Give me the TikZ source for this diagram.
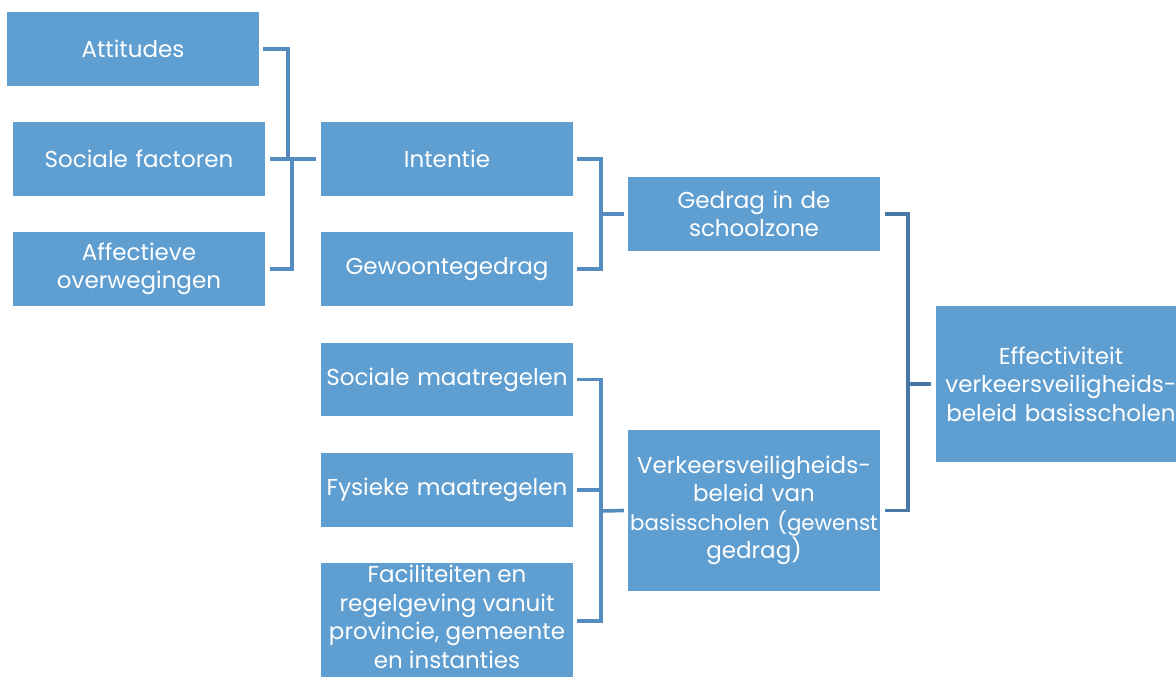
\documentclass[tikz,border=0pt]{standalone}
\usepackage{fontspec}
\setmainfont{Poppins}
\begin{document}
\begin{tikzpicture}[x=1pt,y=-1pt,
  box/.style={fill=boxblue,text=white,minimum width=252pt,inner xsep=1pt,inner ysep=0pt,
    text width=250pt,align=center,font=\fontsize{23}{28.5}\selectfont},
  conn/.style={draw=lineblue,line width=3.6pt},
  connd/.style={draw=linedark,line width=3.6pt}]
\definecolor{boxblue}{RGB}{95,158,209}
\definecolor{lineblue}{RGB}{84,140,192}
\definecolor{linedark}{RGB}{72,121,166}
\useasboundingbox (0,0) rectangle (1176,677);
\begin{scope}
\clip (0,0) rectangle (1176,677);
% first column
\node[box,minimum height=74pt] (att) at (133,49) {Attitudes};
\node[box,minimum height=74pt] (soc) at (139,159) {Sociale factoren};
\node[box,minimum height=74pt] (aff) at (139,269) {Affectieve\\overwegingen};
% second column
\node[box,minimum height=74pt] (int) at (447,159) {Intentie};
\node[box,minimum height=74pt] (gew) at (447,269) {Gewoontegedrag};
\node[box,minimum height=73pt] (smr) at (447,379.5) {Sociale maatregelen};
\node[box,minimum height=74pt] (fys) at (447,490) {Fysieke maatregelen};
\node[box,minimum height=116pt] (fac) at (447,621) {};
\node[text=white,align=center,inner sep=0pt,font=\fontsize{23}{28.5}\selectfont] (factxt) at (447,617)
  {Faciliteiten en\\regelgeving vanuit\\provincie, gemeente\\en instanties};
% third column
\node[box,minimum height=74pt] (ged) at (754,214) {Gedrag in de\\schoolzone};
\node[box,minimum height=161pt] (vvb) at (754,510.5)
  {Verkeersveiligheids-\\beleid van\\\mbox{\fontsize{21.3}{28.5}\selectfont basisscholen (gewenst}\\gedrag)};
% outcome
\node[box,minimum width=250pt,text width=248pt,minimum height=156pt] (eff) at (1061,384)
  {Effectiviteit\\verkeersveiligheids-\\beleid basisscholen};
\end{scope}
% junctions
\coordinate (j1a) at (288,159);
\coordinate (j1b) at (292,159);
\coordinate (j2) at (601,214);
\coordinate (j3) at (601,511);
\coordinate (j4) at (908,384);
% connectors
\draw[conn] ([xshift=4pt]att.east) -| (j1a);
\draw[conn] ([xshift=5pt]aff.east) -| (j1b);
\draw[conn] ([xshift=5pt]soc.east) -- ([xshift=-5pt]int.west);
\draw[conn] ([xshift=4pt]int.east) -| (j2) |- ([xshift=4pt]gew.east);
\draw[conn] (j2) -- ([xshift=-4pt]ged.west);
\draw[conn] ([xshift=4pt]smr.east) -| (j3) |- ([xshift=4pt]fac.east);
\draw[conn] ([xshift=4pt]fys.east) -- (fys.east -| j3);
\draw[conn] (j3) -- ([xshift=-4pt]vvb.west);
\draw[connd] ([xshift=5pt]ged.east) -| (j4) |- ([xshift=5pt]vvb.east);
\draw[connd] (j4) -- ([xshift=-5pt]eff.west);
\end{tikzpicture}
\end{document}
